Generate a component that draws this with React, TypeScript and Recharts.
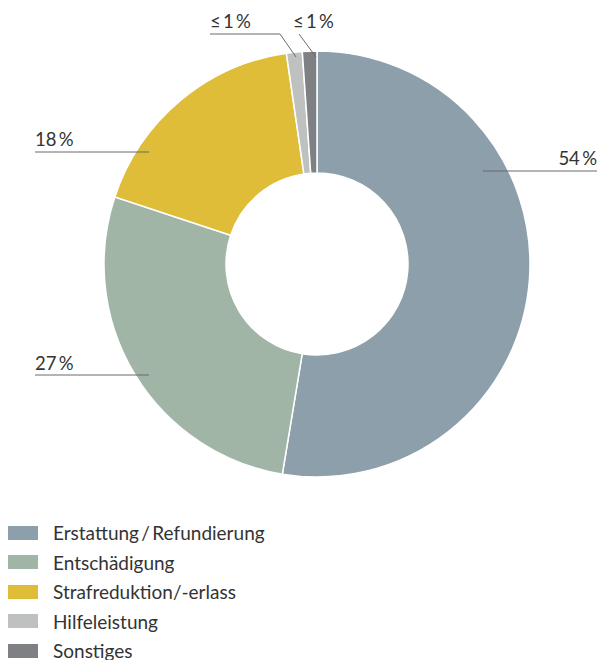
import { Cell, Legend, Pie, PieChart } from "recharts";

const categories = ["Erstattung\u2009/\u2009Refundierung", "Entschädigung", "Strafreduktion/-erlass", "Hilfeleistung", "Sonstiges"];
const shares = [52.6, 27.5, 17.6, 1.2, 1.1];
const shareLabels = ["54\u2009%", "27\u2009%", "18\u2009%", "≤\u20091\u2009%", "≤\u20091\u2009%"];
const colors = ["#8c9fab", "#a1b5a6", "#dfbd38", "#bfc1c0", "#7f8084"];

const FONT = "Lato, 'Open Sans', sans-serif";
const TEXT = "#333333";
const LINE = "#6b6b6b";

// leader line layout relative to pie centre: points, text anchor position
const LABEL_LAYOUT: { pts: [number, number][]; tx: number; ty: number; anchor: "start" | "end" }[] = [
  { pts: [[166, -93], [280, -93]], tx: 280, ty: -99, anchor: "end" },
  { pts: [[-282, 111], [-168, 111]], tx: -282, ty: 106, anchor: "start" },
  { pts: [[-282, -112], [-168, -112]], tx: -282, ty: -118, anchor: "start" },
  { pts: [[-107, -230], [-37, -230], [-21, -207]], tx: -107, ty: -236, anchor: "start" },
  { pts: [[-18, -230], [-1, -207]], tx: -24, ty: -236, anchor: "start" },
];

const data = categories.map((name, i) => ({ name, value: shares[i], label: shareLabels[i], color: colors[i] }));

function renderLabel(props: any) {
  const { cx, cy, index } = props;
  const l = LABEL_LAYOUT[index];
  const points = l.pts.map(([x, y]) => `${cx + x},${cy + y}`).join(" ");
  return (
    <g key={`lbl-${index}`}>
      <polyline points={points} fill="none" stroke={LINE} strokeWidth={1} />
      <text x={cx + l.tx} y={cy + l.ty} textAnchor={l.anchor} fill={TEXT} fontSize={18.5} fontFamily={FONT}>
        {data[index].label}
      </text>
    </g>
  );
}

function renderLegend() {
  return (
    <div>
      {data.map((d) => (
        <div key={d.name} style={{ display: "flex", alignItems: "center", height: 29.5 }}>
          <span style={{ width: 30, height: 14, background: d.color, display: "inline-block", marginRight: 15 }} />
          <span style={{ fontFamily: FONT, fontSize: 19, color: TEXT }}>{d.name}</span>
        </div>
      ))}
    </div>
  );
}

export default function App() {
  return (
    <div style={{ position: "absolute", left: 0, top: 0, width: 599, height: 660, background: "#fff" }}>
      <PieChart width={599} height={660} margin={{ top: 0, right: 0, bottom: 0, left: 0 }}>
        <Pie
          data={data}
          dataKey="value"
          nameKey="name"
          cx={317}
          cy={264}
          innerRadius={91}
          outerRadius={213}
          startAngle={90}
          endAngle={-270}
          stroke="#ffffff"
          strokeWidth={1.5}
          label={renderLabel}
          labelLine={false}
          isAnimationActive={false}
        >
          {data.map((d) => (
            <Cell key={d.name} fill={d.color} />
          ))}
        </Pie>
        <Legend
          content={renderLegend}
          layout="horizontal"
          verticalAlign="bottom"
          align="left"
          wrapperStyle={{ position: "absolute", left: 8, top: 518, bottom: "auto", width: 400 }}
        />
      </PieChart>
    </div>
  );
}
